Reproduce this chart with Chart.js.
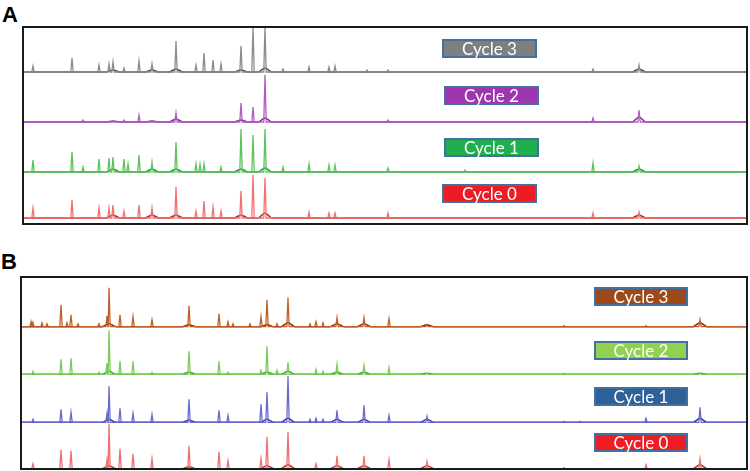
<!DOCTYPE html>
<html>
<head>
<meta charset="utf-8">
<script src="https://cdn.jsdelivr.net/npm/chart.js@4"></script>
<style>
  html, body { margin: 0; padding: 0; background: #fff; }
  body { width: 750px; height: 471px; position: relative; overflow: hidden; font-family: Lato, "Open Sans", sans-serif; }
  .wrap { position: absolute; left: 0; width: 750px; }
  .panel-letter { position: absolute; font-family: "Liberation Sans", Arial, sans-serif; font-weight: bold; font-size: 22px; line-height: 22px; color: #000; }
  .tag { position: absolute; box-sizing: border-box; height: 19px; border: 2px solid #41719c; color: #fff; font-family: Lato, "Open Sans", sans-serif; font-size: 17px; line-height: 15px; text-align: center; }
</style>
</head>
<body>
<div class="panel-letter" style="left:2px;top:4px;">A</div>
<div class="panel-letter" style="left:1px;top:251px;">B</div>
<div class="wrap" style="top:0;height:240px;"><canvas id="chartA" width="750" height="240"></canvas></div>
<div class="wrap" style="top:240px;height:231px;"><canvas id="chartB" width="750" height="231"></canvas></div>
<div id="tags"></div>
<script>
// ---------- Data ----------
const cyclesA = ["Cycle 3", "Cycle 2", "Cycle 1", "Cycle 0"];
const cyclesB = ["Cycle 3", "Cycle 2", "Cycle 1", "Cycle 0"];

// Panel A: peak positions (retention position) and heights per cycle
const peakPosA = [33, 72, 83, 99, 109, 113, 124, 128, 139, 152, 176, 196, 200, 204, 213, 221, 241, 253, 265, 283, 309, 329, 335, 367, 388, 465, 593, 639];
const peakA3 = [6, 14, 0, 7, 8, 10, 4, 0, 11, 8, 31, 7, 0, 19, 12, 8, 26, 45, 45, 3, 5, 5, 6, 2, 2, 0, 3, 7];
const peakA2 = [0, 0, 2, 0, 0, 0, 2, 0, 7, 0, 9, 0, 0, 0, 0, 0, 19, 15, 47, 0, 0, 0, 0, 0, 2, 0, 4, 12];
const peakA1 = [12, 20, 5, 13, 14, 15, 13, 8, 17, 10, 30, 8, 8, 8, 0, 5, 43, 37, 43, 5, 8, 7, 7, 0, 4, 2, 9, 6];
const peakA0 = [10, 18, 0, 10, 10, 13, 7, 0, 13, 10, 31, 7, 0, 17, 11, 7, 27, 43, 40, 0, 6, 5, 5, 0, 5, 0, 5, 6];
// Panel A: broad baseline humps
const humpPosA = [113, 152, 176, 241, 265, 639];
const humpA3 = [2, 2, 3, 2, 4, 3];
const humpA2 = [1, 1, 3, 2, 4, 5];
const humpA1 = [3, 3, 3, 3, 4, 3];
const humpA0 = [3, 3, 3, 3, 5, 3];

// Panel B
const peakPosB = [31, 33, 42, 47, 61, 67, 71, 78, 99, 107, 109, 120, 133, 152, 189, 219, 228, 233, 250, 261, 267, 277, 288, 310, 316, 323, 337, 364, 389, 427, 564, 580, 646, 700];
const peakB3 = [5, 4, 4, 3, 22, 4, 12, 3, 3, 11, 39, 12, 10, 7, 21, 13, 5, 3, 3, 10, 27, 3, 29, 3, 5, 4, 9, 9, 8, 2, 1, 0, 1, 7];
const peakB2 = [0, 3, 0, 0, 15, 0, 16, 0, 2, 11, 44, 13, 13, 2, 23, 13, 2, 0, 0, 4, 28, 4, 12, 0, 5, 3, 10, 9, 7, 1, 1, 0, 0, 1];
const peakB1 = [0, 3, 0, 0, 13, 0, 10, 0, 0, 9, 36, 14, 9, 8, 23, 12, 7, 0, 0, 18, 30, 0, 46, 3, 4, 3, 12, 17, 7, 6, 1, 1, 4, 15];
const peakB0 = [0, 5, 0, 0, 19, 0, 18, 0, 0, 9, 45, 20, 15, 10, 23, 17, 8, 0, 0, 10, 32, 0, 37, 0, 5, 0, 13, 13, 9, 7, 1, 0, 4, 10];
const humpPosB = [109, 189, 267, 288, 337, 364, 427, 700];
const humpB3 = [3, 2, 2, 4, 3, 3, 2, 4];
const humpB2 = [3, 2, 2, 3, 2, 2, 1, 1];
const humpB1 = [3, 2, 3, 4, 3, 3, 3, 4];
const humpB0 = [3, 2, 3, 4, 3, 3, 3, 4];

// ---------- Styles ----------
const spikeColA = ["#8c8c8c", "#b45cc4", "#5cc45c", "#f27272"];
const baseColA  = ["#4a4a4a", "#7a2f8a", "#2e8f3a", "#a82626"];
const tagColA   = ["#7f7f7f", "#a035b0", "#1faf4f", "#ed1c24"];
const spikeColB = ["#c0602a", "#7ccc5c", "#6a6ad0", "#f07070"];
const baseColB  = ["#8a3410", "#3a9a3a", "#3838a0", "#c03030"];
const tagColB   = ["#9c4a1c", "#92d050", "#2e6099", "#ee1c24"];

function tracePoints(pos, h, hw, xmin, xmax) {
  const pts = [{x: xmin, y: 0}];
  pos.forEach((p, i) => {
    if (h[i] > 0) {
      pts.push({x: p - hw, y: 0}, {x: p, y: h[i]}, {x: p + hw, y: 0});
    }
  });
  pts.push({x: xmax, y: 0});
  pts.sort((a, b) => a.x - b.x);
  return pts;
}

const framePlugin = {
  id: 'frame',
  afterDraw(chart) {
    const a = chart.chartArea, ctx = chart.ctx;
    ctx.save();
    ctx.strokeStyle = '#1a1a1a';
    ctx.lineWidth = 2;
    ctx.strokeRect(a.left, a.top, a.right - a.left, a.bottom - a.top);
    ctx.restore();
  }
};

function makeChart(id, cfg) {
  const axisIds = ["y3", "y2", "y1", "y0"];
  const datasets = [];
  cfg.peaks.forEach((h, i) => {
    datasets.push({
      label: cfg.names[i] + " peaks",
      data: tracePoints(cfg.peakPos, h, 1.2, cfg.xmin, cfg.xmax),
      yAxisID: axisIds[i], borderColor: cfg.spike[i], borderWidth: 1.3, pointRadius: 0, tension: 0, clip: false
    });
    datasets.push({
      label: cfg.names[i] + " baseline",
      data: tracePoints(cfg.humpPos, cfg.humps[i], 7, cfg.xmin, cfg.xmax),
      yAxisID: axisIds[i], borderColor: cfg.base[i], borderWidth: 1.6, pointRadius: 0,
      cubicInterpolationMode: 'monotone', clip: false
    });
  });
  const scales = {
    x: { type: 'linear', min: cfg.xmin, max: cfg.xmax, display: false }
  };
  axisIds.forEach((k, i) => {
    scales[k] = { type: 'linear', position: 'right', stack: 'rows', stackWeight: 1,
      min: cfg.mins[i], max: cfg.mins[i] + cfg.rowH, display: false };
  });
  return new Chart(document.getElementById(id), {
    type: 'line',
    data: { datasets },
    options: {
      responsive: false, animation: false, events: [],
      layout: { padding: cfg.padding },
      plugins: { legend: { display: false }, tooltip: { enabled: false } },
      scales
    },
    plugins: [framePlugin]
  });
}

makeChart('chartA', {
  names: cyclesA, peakPos: peakPosA, peaks: [peakA3, peakA2, peakA1, peakA0],
  humpPos: humpPosA, humps: [humpA3, humpA2, humpA1, humpA0],
  spike: spikeColA, base: baseColA, xmin: 23, xmax: 747,
  mins: [-4.25, -3.5, -2.75, -6], rowH: 49.25,
  padding: { left: 23, top: 27, right: 3, bottom: 16 }
});
makeChart('chartB', {
  names: cyclesB, peakPos: peakPosB, peaks: [peakB3, peakB2, peakB1, peakB0],
  humpPos: humpPosB, humps: [humpB3, humpB2, humpB1, humpB0],
  spike: spikeColB, base: baseColB, xmin: 21, xmax: 747,
  mins: [1.7, 1.3, 1.3, -0.3], rowH: 48,
  padding: { left: 21, top: 37, right: 3, bottom: 2 }
});

// Label tags
const tags = document.getElementById('tags');
const tagTopA = [39, 86, 138, 184], tagLeftA = [442, 444, 444, 442];
const tagTopB = [287, 341, 387, 433];
cyclesA.forEach((n, i) => {
  const d = document.createElement('div');
  d.className = 'tag'; d.textContent = n;
  d.style.cssText = `left:${tagLeftA[i]}px;top:${tagTopA[i]}px;width:95px;background:${tagColA[i]};`;
  tags.appendChild(d);
});
cyclesB.forEach((n, i) => {
  const d = document.createElement('div');
  d.className = 'tag'; d.textContent = n;
  d.style.cssText = `left:594px;top:${tagTopB[i]}px;width:94px;background:${tagColB[i]};`;
  tags.appendChild(d);
});
</script>
</body>
</html>
